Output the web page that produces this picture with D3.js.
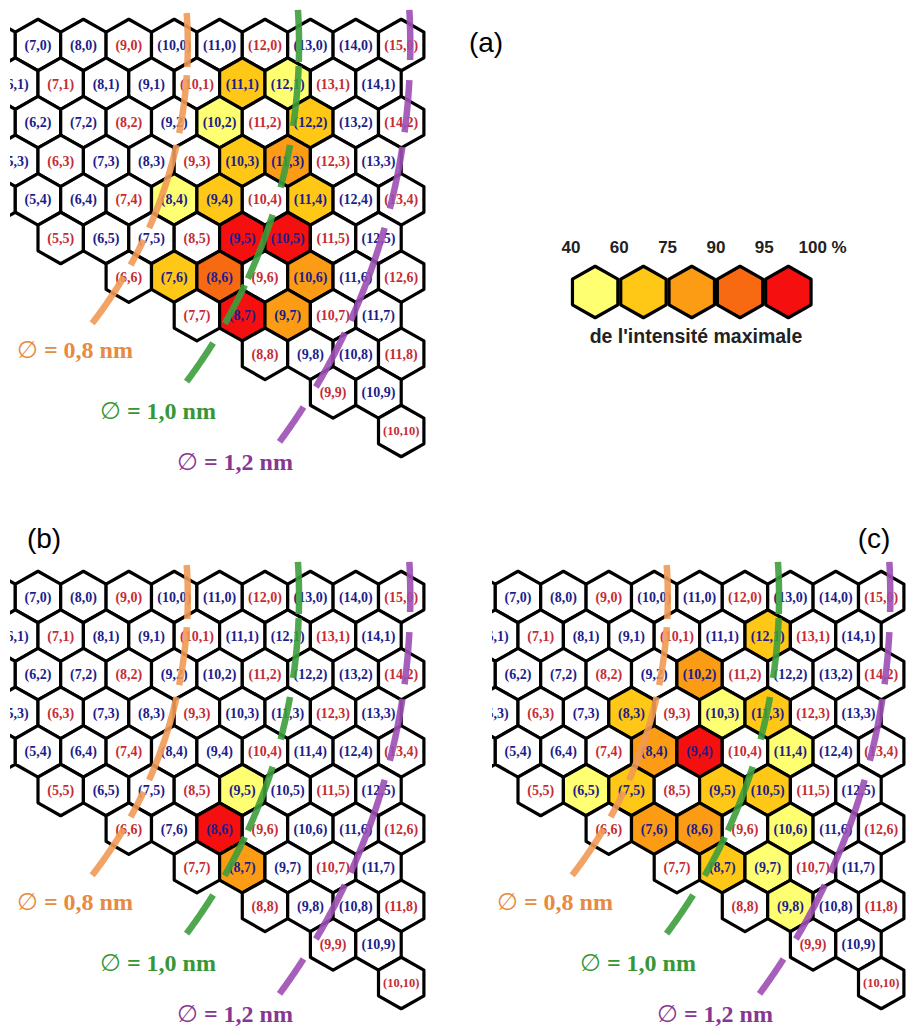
<!DOCTYPE html>
<html>
<head>
<meta charset="utf-8">
<script src="https://cdn.jsdelivr.net/npm/d3@7"></script>
<style>
body { margin: 0; background: #fff; }
</style>
</head>
<body>
<div id="chart"></div>
<script>
// last n drawn in each row m (row m starts at n = m)
var rowLastN = [15, 14, 14, 13, 13, 12, 12, 11, 11, 10, 10];

// coloured cells: [n, m, lower bound of the intensity class in %]
var panelA = [[11,1,60],[12,1,40],[10,2,40],[12,2,60],[10,3,60],[11,3,75],[8,4,40],[9,4,60],
              [11,4,60],[9,5,95],[10,5,95],[7,6,60],[8,6,90],[10,6,75],[8,7,95],[9,7,75]];
var panelB = [[9,5,40],[8,6,95],[8,7,75]];
var panelC = [[12,1,60],[10,2,75],[8,3,60],[10,3,40],[11,3,60],[8,4,75],[9,4,95],[11,4,40],
              [6,5,40],[7,5,60],[9,5,60],[10,5,60],[7,6,75],[8,6,75],[10,6,40],[8,7,60],[9,7,40],[9,8,40]];

// legend
var legendStops = [40, 60, 75, 90, 95, 100];
var levelColors = ['#ffff72', '#ffc816', '#fb9c14', '#f86a12', '#f50f0f'];

// constant diameter lines (radius in lattice units)
var diamLabels = ['0,8', '1,0', '1,2'];
var diamRadius = [10.3, 12.75, 15.2];
var lineColors = ['#f09a55', '#3c9e3c', '#9c4eb2'];
var labelColors = ['#e58b42', '#379637', '#86378f'];
// visible pieces of each dashed line, as ranges of m
var diamPieces = [
	[[-0.83,0.57],[0.78,2.28],[2.59,4.74],[5.05,5.7],[6.01,7.25]],
	[[-0.91,0.44],[0.55,2.1],[2.59,3.7],[4.4,6.09],[6.22,7.25],[7.72,8.76]],
	[[-0.91,0.39],[0.91,2.28],[2.64,4.27],[4.74,7.18],[7.46,8.89],[9.38,10.31]]
];

var W = 908, H = 1028;
var dx = 45.4, dy = 38.6;          // px per lattice unit / per row
var hw = dx / 2, R = dy / 1.5;      // hexagon half width / radius

var svg = d3.select('#chart')
			.append('svg')
			.attr('width', W)
			.attr('height', H);

var color = d3.scaleThreshold()
			.domain(legendStops.slice(1, 5))
			.range(levelColors);

function hexPath(cx, cy) {
	return 'M' + cx + ',' + (cy - R) +
		'L' + (cx + hw) + ',' + (cy - R / 2) +
		'L' + (cx + hw) + ',' + (cy + R / 2) +
		'L' + cx + ',' + (cy + R) +
		'L' + (cx - hw) + ',' + (cy + R / 2) +
		'L' + (cx - hw) + ',' + (cy - R / 2) + 'Z';
}

// all cells of the map
var cells = [];
rowLastN.forEach(function(last, m) {
	for (var n = m; n <= last; n++) cells.push({n: n, m: m});
});

var panels = [
	{name: '(a)', data: panelA, px: 38, py: 45, clipX: 10, lx: 486, ly: 52},
	{name: '(b)', data: panelB, px: 38, py: 597, clipX: 10, lx: 44, ly: 548},
	{name: '(c)', data: panelC, px: 518, py: 597, clipX: 492, lx: 874, ly: 548}
];

panels.forEach(function(p, i) {
	// (7,0) sits at (px, py)
	var x = d3.scaleLinear().domain([7, 8]).range([p.px, p.px + dx]);
	var y = d3.scaleLinear().domain([0, 1]).range([p.py, p.py + dy]);
	var level = {};
	p.data.forEach(function(d) { level[d[0] + ',' + d[1]] = d[2]; });

	svg.append('clipPath')
		.attr('id', 'clip' + i)
		.append('rect')
		.attr('x', p.clipX)
		.attr('y', p.py - 45)
		.attr('width', 420)
		.attr('height', 480);

	var g = svg.append('g').attr('clip-path', 'url(#clip' + i + ')');

	// only the cells that reach into the panel
	var shown = cells.filter(d => x(d.n + d.m / 2) + hw > p.clipX + 2);

	var nodes = g.selectAll('g.cell')
		.data(shown)
		.enter()
		.append('g')
		.attr('class', 'cell');

	nodes.append('path')
		.attr('d', d => hexPath(x(d.n + d.m / 2), y(d.m)))
		.attr('fill', d => level[d.n + ',' + d.m] ? color(level[d.n + ',' + d.m]) : '#fff')
		.attr('stroke', '#000')
		.attr('stroke-width', 3.2)
		.attr('stroke-linejoin', 'round');

	nodes.filter(d => x(d.n + d.m / 2) > p.clipX - 10)
		.append('text')
		.attr('x', d => x(d.n + d.m / 2))
		.attr('y', d => y(d.m))
		.attr('dy', '0.35em')
		.attr('text-anchor', 'middle')
		.attr('font-family', 'Liberation Serif, serif')
		.attr('font-weight', 'bold')
		.attr('font-size', d => d.n >= 10 && d.m >= 10 ? 12.5 : 14)
		.attr('fill', d => (d.n - d.m) % 3 === 0 ? '#c42d36' : '#1d1d8a')
		.text(d => '(' + d.n + ',' + d.m + ')');

	// dashed constant diameter arcs, centred on the (0,0) lattice point
	var line = d3.line().x(d => d[0]).y(d => d[1]);
	diamRadius.forEach(function(r, k) {
		diamPieces[k].forEach(function(pc) {
			var pts = d3.range(pc[0], pc[1] + 0.001, 0.05).map(function(m) {
				var v = m * Math.sqrt(3) / 2;
				var u = Math.sqrt(r * r - v * v);
				return [x(u), y(m)];
			});
			svg.append('path')
				.attr('d', line(pts))
				.attr('fill', 'none')
				.attr('stroke', lineColors[k])
				.attr('stroke-width', 6.5)
				.attr('opacity', 0.9);
		});
	});

	// diameter labels
	var lab = [[-21, 313], [62, 374], [139, 425]];
	diamLabels.forEach(function(t, k) {
		var txt = svg.append('text')
			.attr('x', p.px + lab[k][0])
			.attr('y', p.py + lab[k][1])
			.attr('fill', labelColors[k]);
		txt.append('tspan')
			.attr('font-family', 'DejaVu Sans, sans-serif')
			.attr('font-size', 24)
			.text('\u2205');
		txt.append('tspan')
			.attr('font-family', 'Liberation Serif, serif')
			.attr('font-weight', 'bold')
			.attr('font-size', 24)
			.text(' = ' + t + ' nm');
	});

	svg.append('text')
		.attr('x', p.lx)
		.attr('y', p.ly)
		.attr('text-anchor', 'middle')
		.attr('font-family', 'Liberation Sans, Arial, sans-serif')
		.attr('font-size', 28)
		.text(p.name);
});

// legend
var lx = d3.scaleLinear().domain([0, 1]).range([571, 571 + 48.3]);
var legend = svg.append('g');

legend.selectAll('path')
	.data(legendStops.slice(0, 5))
	.enter()
	.append('path')
	.attr('d', (d, i) => hexPath(lx(i + 0.5), 292))
	.attr('fill', d => color(d))
	.attr('stroke', '#000')
	.attr('stroke-width', 3.2)
	.attr('stroke-linejoin', 'round');

legend.selectAll('text.stop')
	.data(legendStops)
	.enter()
	.append('text')
	.attr('class', 'stop')
	.attr('x', (d, i) => i === 5 ? lx(i) - 14 : lx(i))
	.attr('y', 253)
	.attr('text-anchor', (d, i) => i === 5 ? 'start' : 'middle')
	.attr('font-family', 'Liberation Sans, Arial, sans-serif')
	.attr('font-weight', 'bold')
	.attr('font-size', 17)
	.attr('fill', '#222')
	.text((d, i) => i === 5 ? d + ' %' : d);

legend.append('text')
	.attr('x', 696)
	.attr('y', 343)
	.attr('text-anchor', 'middle')
	.attr('font-family', 'Liberation Sans, Arial, sans-serif')
	.attr('font-weight', 'bold')
	.attr('font-size', 19.5)
	.attr('fill', '#222')
	.text("de l'intensité maximale");
</script>
</body>
</html>
